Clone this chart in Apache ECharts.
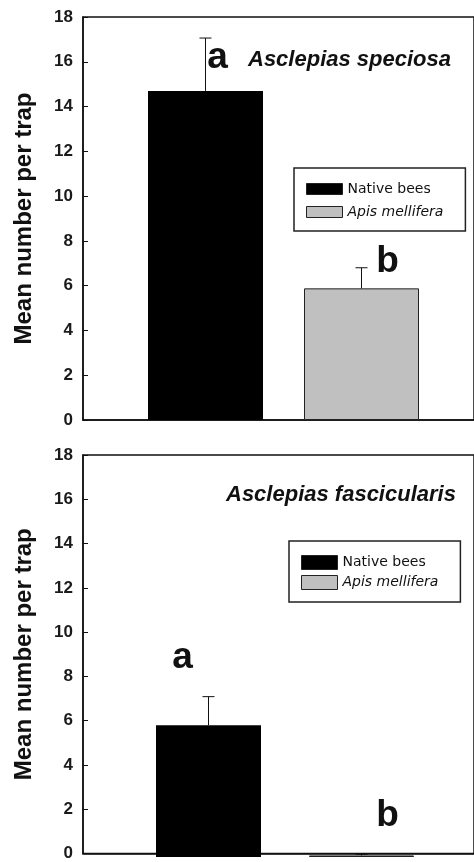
<!DOCTYPE html>
<html>
<head>
<meta charset="utf-8">
<script src="https://cdn.jsdelivr.net/npm/echarts@6/dist/echarts.min.js"></script>
<style>
  html, body { margin: 0; padding: 0; background: #fff; }
  #chart { width: 474px; height: 862px; }
</style>
</head>
<body>
<div id="chart"></div>
<script>
// groups shown in each panel
var groups = ['Native bees', 'Apis mellifera']

// Asclepias speciosa (top panel)
var speciosaMean = [14.7, 5.88]
var speciosaSE = [2.36, 0.92]
var speciosaLetters = ['a', 'b']

// Asclepias fascicularis (bottom panel)
var fascicularisMean = [5.9, 0.07]
var fascicularisSE = [1.28, 0.05]
var fascicularisLetters = ['a', 'b']

var yMin = 0, yMax = 18, yStep = 2

var chart = echarts.init(document.getElementById('chart'))

var FONT = '"Liberation Sans", Arial, sans-serif'
var INK = '#111'

// letter placement relative to the top of each error bar (px)
var letterOffsetTop = [[12, 38], [26, 13]]
var letterOffsetBottom = [[-26, -20], [26, -20]]

function errorBars(letters, offsets) {
    return function (params, api) {
        var i = api.value(0)
        var m = api.value(1)
        var e = api.value(2)
        var p0 = api.coord([i, m])
        var p1 = api.coord([i, m + e])
        var cap = 6
        var off = offsets[params.dataIndex]
        return {
            type: 'group',
            children: [
                {type: 'line', shape: {x1: p0[0], y1: p0[1], x2: p1[0], y2: p1[1]}, style: {stroke: INK, lineWidth: 1}},
                {type: 'line', shape: {x1: p1[0] - cap, y1: p1[1], x2: p1[0] + cap, y2: p1[1]}, style: {stroke: INK, lineWidth: 1}},
                {
                    type: 'text',
                    x: p1[0] + off[0],
                    y: p1[1] + off[1],
                    style: {
                        text: letters[params.dataIndex],
                        font: 'bold 37px ' + FONT,
                        fill: INK,
                        align: 'center',
                        verticalAlign: 'bottom'
                    }
                }
            ]
        }
    }
}

function errData(mean, se) {
    return mean.map(function (v, i) { return [i, v, se[i]] })
}

function frameY(gridIndex) {
    return {
        gridIndex: gridIndex,
        type: 'value',
        min: yMin,
        max: yMax,
        interval: yStep,
        name: 'Mean number per trap',
        nameLocation: 'middle',
        nameGap: 47,
        nameTextStyle: {fontFamily: FONT, fontWeight: 'bold', fontSize: 24, color: INK},
        axisLine: {show: true, lineStyle: {color: INK, width: 1.5}},
        axisTick: {show: true, inside: true, length: 5, lineStyle: {color: INK}},
        axisLabel: {fontFamily: FONT, fontWeight: 'bold', fontSize: 17, color: '#1a1a1a', margin: 10},
        splitLine: {show: false}
    }
}

function hiddenY(gridIndex) {
    return {gridIndex: gridIndex, type: 'value', min: yMin, max: yMax, show: false, splitLine: {show: false}}
}

function frameX(gridIndex) {
    return {
        gridIndex: gridIndex,
        type: 'category',
        data: [''],
        axisLine: {show: true, lineStyle: {color: INK, width: 1.5}},
        axisTick: {show: false},
        axisLabel: {show: false}
    }
}

function barX(gridIndex) {
    return {gridIndex: gridIndex, type: 'category', data: groups, show: false}
}

function legendBox(left, top, itemHeight, gap) {
    return {
        orient: 'vertical',
        left: left,
        top: top,
        padding: [14, 22, 12, 12],
        itemWidth: 36,
        itemHeight: itemHeight,
        itemGap: gap,
        itemStyle: {borderColor: '#222', borderWidth: 1},
        borderColor: '#222',
        borderWidth: 1.5,
        icon: 'rect',
        selectedMode: false,
        textStyle: {fontFamily: '"DejaVu Sans", sans-serif', fontSize: 14, color: INK},
        data: [
            {name: groups[0]},
            {name: groups[1], textStyle: {fontStyle: 'italic'}}
        ]
    }
}

var nativeStyle = {color: '#000'}
var apisStyle = {color: '#c0c0c0', borderColor: '#222', borderWidth: 1}

chart.setOption({
    animation: false,
    backgroundColor: '#fff',
    title: [
        {text: 'Asclepias speciosa', left: 243, top: 44,
            textStyle: {fontFamily: FONT, fontStyle: 'italic', fontWeight: 'bold', fontSize: 22, color: INK}},
        {text: 'Asclepias fascicularis', left: 221, top: 479,
            textStyle: {fontFamily: FONT, fontStyle: 'italic', fontWeight: 'bold', fontSize: 22, color: INK}}
    ],
    legend: [
        legendBox(294, 168, 11, 9),
        legendBox(289, 541, 14, 5)
    ],
    grid: [
        {left: 83, top: 17, width: 400, height: 403, show: true, borderColor: INK, borderWidth: 1.5},
        {left: 127.5, top: 17, width: 312, height: 403},
        {left: 83, top: 455, width: 400, height: 402, show: true, borderColor: INK, borderWidth: 1.5},
        {left: 132, top: 455, width: 306, height: 402}
    ],
    xAxis: [frameX(0), barX(1), frameX(2), barX(3)],
    yAxis: [frameY(0), hiddenY(1), frameY(2), hiddenY(3)],
    series: [
        {
            name: groups[0], type: 'bar', xAxisIndex: 1, yAxisIndex: 1,
            data: [speciosaMean[0], '-'], barWidth: 115, barGap: '-100%', itemStyle: nativeStyle
        },
        {
            name: groups[1], type: 'bar', xAxisIndex: 1, yAxisIndex: 1,
            data: ['-', speciosaMean[1]], barWidth: 115, barGap: '-100%', itemStyle: apisStyle
        },
        {
            type: 'custom', xAxisIndex: 1, yAxisIndex: 1, z: 5,
            renderItem: errorBars(speciosaLetters, letterOffsetTop),
            data: errData(speciosaMean, speciosaSE)
        },
        {
            name: groups[0], type: 'bar', xAxisIndex: 3, yAxisIndex: 3,
            data: [fascicularisMean[0], '-'], barWidth: 105, barGap: '-100%', itemStyle: nativeStyle
        },
        {
            name: groups[1], type: 'bar', xAxisIndex: 3, yAxisIndex: 3,
            data: ['-', fascicularisMean[1]], barWidth: 105, barGap: '-100%', itemStyle: apisStyle
        },
        {
            type: 'custom', xAxisIndex: 3, yAxisIndex: 3, z: 5,
            renderItem: errorBars(fascicularisLetters, letterOffsetBottom),
            data: errData(fascicularisMean, fascicularisSE)
        }
    ]
})
</script>
</body>
</html>
